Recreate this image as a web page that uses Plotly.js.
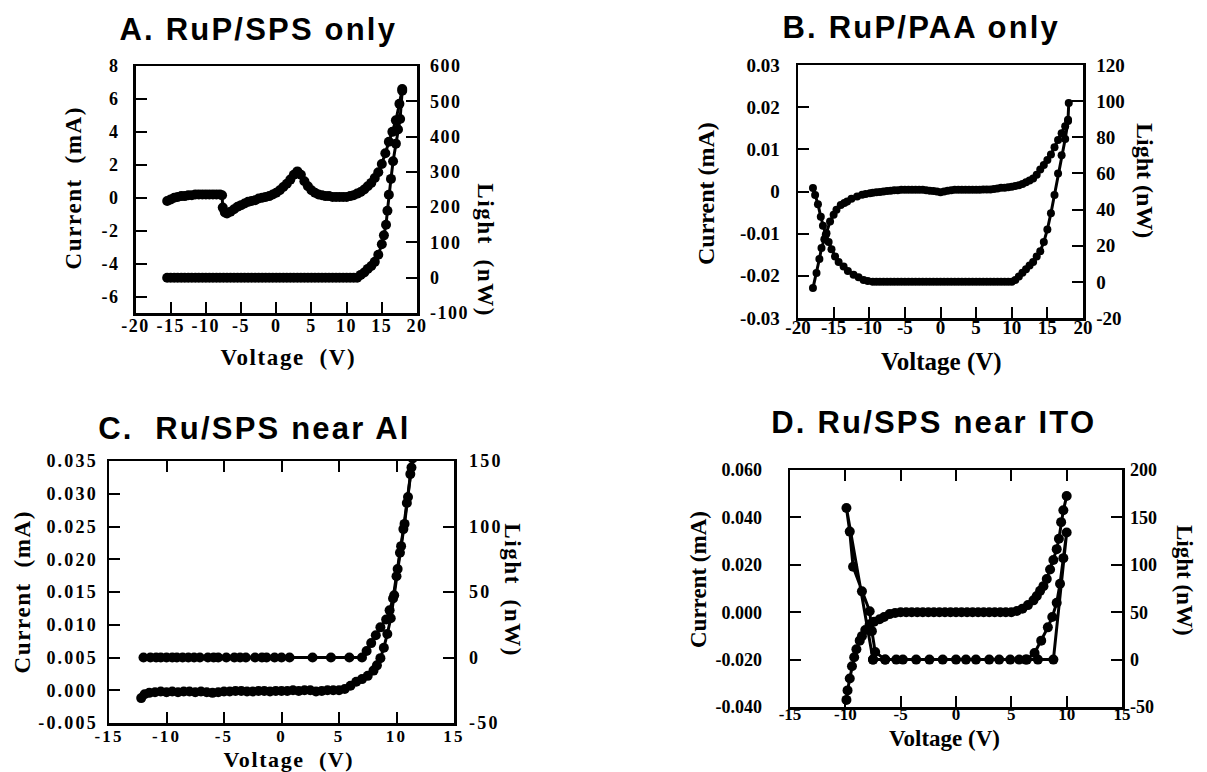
<!DOCTYPE html>
<html>
<head>
<meta charset="utf-8">
<script src="https://cdn.plot.ly/plotly-3.0.1.min.js"></script>
<style>
html,body{margin:0;padding:0;background:#fff;}
#chart{width:1207px;height:772px;}
.xtick text,.ytick text,.y2tick text{letter-spacing:1.5px;}
.x3tick text,.y5tick text,.y6tick text{letter-spacing:2.2px;}
g.annotation[data-index="0"] text,g.annotation[data-index="1"] text,g.annotation[data-index="2"] text,g.annotation[data-index="3"] text{letter-spacing:2.2px;}
g.annotation[data-index="4"] text,g.annotation[data-index="6"] text,g.annotation[data-index="8"] text,g.annotation[data-index="10"] text,g.annotation[data-index="12"] text,g.annotation[data-index="14"] text{letter-spacing:1.6px;}
</style>
</head>
<body>
<div id="chart"></div>
<script>
// ---------- Panel A: RuP/SPS only ----------
const A_volt_cur = [-15.5,-15.0,-14.5,-14.0,-13.5,-13.0,-12.5,-12.0,-11.5,-11.0,-10.5,-10.0,-9.5,-9.0,-8.5,-8.0,
  -7.7,-7.6,-7.3,-7.0,
  -6.5,-6.0,-5.5,-5.0,-4.5,-4.0,-3.5,-3.0,-2.5,-2.0,-1.5,-1.0,-0.5,0.0,0.5,1.0,1.5,2.0,2.5,3.0,3.5,4.0,4.5,5.0,5.5,
  6.0,6.5,7.0,7.5,8.0,8.5,9.0,9.5,10.0,10.5,11.0,11.5,12.0,12.5,13.0,13.5,14.0,14.5,15.0,15.5,16.0,16.5,17.0,17.5,
  17.9];
const A_current = [-0.2,-0.1,0.0,0.05,0.1,0.1,0.15,0.15,0.2,0.2,0.2,0.2,0.2,0.2,0.2,0.2,
  0.15,-0.6,-0.9,-0.95,
  -0.85,-0.7,-0.55,-0.45,-0.35,-0.25,-0.2,-0.15,-0.05,0.0,0.05,0.1,0.2,0.3,0.45,0.65,0.85,1.1,1.4,1.6,1.4,1.0,0.7,0.45,0.3,
  0.2,0.15,0.1,0.1,0.05,0.05,0.05,0.05,0.05,0.1,0.15,0.25,0.35,0.5,0.7,0.9,1.2,1.55,2.05,2.7,3.4,4.0,4.7,5.7,
  6.6];
const A_volt_light = [-15.5,-15,-14.5,-14,-13.5,-13,-12.5,-12,-11.5,-11,-10.5,-10,-9.5,-9,-8.5,-8,-7.5,-7,-6.5,-6,
  -5.5,-5,-4.5,-4,-3.5,-3,-2.5,-2,-1.5,-1,-0.5,0,0.5,1,1.5,2,2.5,3,3.5,4,4.5,5,5.5,6,6.5,7,7.5,8,8.5,9,9.5,10,10.5,11,11.5,
  12.0,12.5,13.0,13.5,14.0,14.5,15.0,15.3,15.6,15.8,16.0,16.3,16.6,17.0,17.3,17.6,17.9];
const A_light = [0,0,0,0,0,0,0,0,0,0,0, 0,0,0,0,0,0,0,0,0,0,0, 0,0,0,0,0,0,0,0,0,0,0, 0,0,0,0,0,0,0,0,0,0,0, 0,0,0,0,0,0,0,0,0,0,0,
  8,15,25,33,45,65,95,120,150,190,235,280,330,380,420,450,530];
const A_xticks = [-20,-15,-10,-5,0,5,10,15,20];
const A_xlabels = ['-20','-15','-10','-5','0','5','10','15','20'];
const A_yticks = [-6,-4,-2,0,2,4,6,8];
const A_ylabels = ['-6','-4','-2','0','2','4','6','8'];
const A_y2ticks = [-100,0,100,200,300,400,500,600];
const A_y2labels = ['-100','0','100','200','300','400','500','600'];

// ---------- Panel B: RuP/PAA only ----------
const B_volt_cur = [-17.9,-17.4,-17.0,-16.7,-16.3,-16.0,-15.5,-15.0,-14.6,-14.0,-13.5,-13.1,-12.5,-11.7,-11.0,-10.5,-9.9,-9.5,
  -9.0,-8.5,-8.0,-7.5,-7.0,-6.5,-6.0,-5.5,-5.0,-4.5,-4.0,-3.5,-3.0,-2.5,-2.0,-1.5,-1.0,-0.5,0.0,0.5,1.0,1.5,2.0,2.5,3.0,3.5,
  4.0,4.5,5.0,5.5,6.0,6.5,7.0,7.5,8.0,8.5,9.0,9.5,10.0,
  10.5,11.0,11.5,12.0,12.5,13.0,13.5,14.0,14.5,15.0,15.5,16.0,16.5,17.0,17.5,17.9,18.0];
const B_current = [-0.0229,-0.0193,-0.016,-0.0134,-0.0113,-0.0099,-0.0071,-0.0055,-0.0043,-0.0032,-0.0027,-0.0024,-0.0017,-0.0012,-0.0008,-0.0006,-0.0004,-0.0003,
  -0.0002,-0.0001,0.0,0.0001,0.0002,0.0003,0.0003,0.0004,0.0004,0.0004,0.0004,0.0004,0.0004,0.0004,0.0003,0.0002,0.0001,0.0,-0.0002,0.0,0.0002,0.0003,
  0.0004,0.0004,0.0004,0.0004,0.0004,0.0004,0.0004,0.0004,0.0005,0.0005,0.0005,0.0006,0.0007,0.0009,0.0009,0.001,0.0011,
  0.0013,0.0015,0.0018,0.0022,0.0026,0.0031,0.004,0.0052,0.0063,0.0075,0.0088,0.0105,0.0122,0.0138,0.0155,0.017,0.021];
const B_volt_light = [-17.9,-17.6,-17.2,-16.8,-16.5,-16.1,-15.7,-15.3,-14.8,-14.3,-13.6,-13.0,-12.2,-11.5,-10.8,-10.2,-9.5,
  -9.0,-8.5,-8.0,-7.5,-7.0,-6.5,-6.0,-5.5,-5.0,-4.5,-4.0,-3.5,-3.0,-2.5,-2.0,-1.5,-1.0,-0.5,0.0,0.5,1.0,1.5,2.0,2.5,3.0,3.5,
  4.0,4.5,5.0,5.5,6.0,6.5,7.0,7.5,8.0,8.5,9.0,9.5,10.0,
  10.5,11.0,11.5,12.0,12.5,13.0,13.5,14.0,14.5,15.0,15.5,16.0,16.5,17.0,17.5,17.9];
const B_light = [52,48,43,36,31,26,22,18,14,11,8.5,6,4,2.5,1,0.5,0,
  0,0,0,0,0,0,0,0,0,0,0,0,0,0,0,0,0,0,0,0,0,0,0,0,0,0,
  0,0,0,0,0,0,0,0,0,0,0,0,0,
  1,3,5,7,9,11,14,17,22,29,38,48,60,70,79,89];
const B_xticks = [-20,-15,-10,-5,0,5,10,15,20];
const B_xlabels = ['-20','-15','-10','-5','0','5','10','15','20'];
const B_yticks = [-0.03,-0.02,-0.01,0,0.01,0.02,0.03];
const B_ylabels = ['-0.03','-0.02','-0.01','0','0.01','0.02','0.03'];
const B_y2ticks = [-20,0,20,40,60,80,100,120];
const B_y2labels = ['-20','0','20','40','60','80','100','120'];

// ---------- Panel C: Ru/SPS near Al ----------
const C_volt_cur = [-12.2,-11.9,
  -11.5,-11.0,-10.5,-10.0,-9.5,-9.0,-8.5,-8.0,-7.5,-7.0,-6.5,-6.0,-5.5,-5.0,-4.5,-4.0,-3.5,-3.0,-2.5,-2.0,-1.5,-1.0,-0.5,
  0.0,0.5,1.0,1.5,2.0,2.5,3.0,3.5,4.0,4.5,5.0,5.5,6.0,6.5,7.0,7.5,
  8.0,8.3,8.6,8.9,9.2,9.5,9.8,10.1,10.4,10.7,11.0,11.3];
const C_current = [-0.0012,-0.0006,
  -0.0004,-0.0003,-0.0002,-0.0003,-0.0002,-0.0003,-0.0002,-0.0002,-0.0003,-0.0002,-0.0003,-0.0004,-0.0003,-0.0002,-0.0002,-0.0001,-0.0001,-0.0002,-0.0002,-0.0001,-0.0001,-0.0002,-0.0001,
  -0.0001,-0.0001,0.0,-0.0001,0.0,0.0,-0.0002,-0.0001,0.0,0.0,0.0,0.0002,0.0007,0.0013,0.0017,0.0022,
  0.003,0.0038,0.0049,0.0065,0.0086,0.011,0.0145,0.0185,0.022,0.0254,0.0295,0.034];
const C_volt_light = [-12.0,-11.4,-10.9,-10.5,-10.0,-9.5,-9.1,-8.6,-8.1,-7.6,-7.1,-6.4,-5.9,-5.5,-4.8,-4.1,-3.6,-3.1,-2.3,-1.7,
  -1.3,-0.6,0.0,0.7,2.7,4.3,5.9,7.0,
  7.4,7.8,8.2,8.6,9.1,9.4,9.7,10.0,10.3,10.6,10.9,11.2,11.4];
const C_light = [0,0,0,0,0,0,0,0,0,0,0,0,0,0,0,0,0,0,0,0,
  0,0,0,0,0,0,0,0,
  5,11,17,23,29,36,45,62,80,98,118,140,152];
const C_xticks = [-15,-10,-5,0,5,10,15];
const C_xlabels = ['-15','-10','-5','0','5','10','15'];
const C_yticks = [-0.005,0,0.005,0.01,0.015,0.02,0.025,0.03,0.035];
const C_ylabels = ['-0.005','0.000','0.005','0.010','0.015','0.020','0.025','0.030','0.035'];
const C_y2ticks = [-50,0,50,100,150];
const C_y2labels = ['-50','0','50','100','150'];

// ---------- Panel D: Ru/SPS near ITO ----------
const D_volt_cur = [-9.9,-9.8,-9.6,-9.4,-9.2,-9.0,-8.7,-8.5,-8.2,-7.8,-7.4,-6.9,-6.5,-6.0,-5.5,
  -5.0,-4.5,-4.0,-3.5,-3.0,-2.5,-2.0,-1.5,-1.0,-0.5,0.0,0.5,1.0,1.5,2.0,2.5,3.0,3.5,4.0,4.5,5.0,
  5.5,6.0,6.5,7.0,7.3,7.6,7.9,8.2,8.5,8.8,9.1,9.3,9.5,9.7,10.0];
const D_current = [-0.037,-0.033,-0.028,-0.0228,-0.019,-0.0156,-0.012,-0.0101,-0.0075,-0.0051,-0.004,-0.003,-0.002,-0.0008,-0.0003,
  0,0,0,0,0,0,0,0,0,0,0,0,0,0,0,0,0,0,0,0,0,
  0.0005,0.0015,0.003,0.005,0.0068,0.009,0.011,0.014,0.018,0.022,0.0266,0.031,0.038,0.043,0.049];
const D_volt_light = [-7.5,-6.4,-5.4,-4.8,-3.6,-2.4,-1.2,0.0,0.9,1.8,3.0,3.9,4.9,5.7,6.3,7.4,8.8,
  10.0,9.7,9.4,9.1,8.7,8.3,7.7,7.1,6.4,
  -6.4,-7.3,-7.6,-7.8,-8.5,-9.3,-9.6,-9.9,-7.5];
const D_light = [0,0,0,0,0,0,0,0,0,0,0,0,0,0,0,0,0,
  134,107,80,60,45,34,20,7,0,
  0,8,30,51,72,98,135,160,0];
const D_xticks = [-15,-10,-5,0,5,10,15];
const D_xlabels = ['-15','-10','-5','0','5','10','15'];
const D_yticks = [-0.04,-0.02,0,0.02,0.04,0.06];
const D_ylabels = ['-0.040','-0.020','0.000','0.020','0.040','0.060'];
const D_y2ticks = [-50,0,50,100,150,200];
const D_y2labels = ['-50','0','50','100','150','200'];

// ---------- layout helpers ----------
const W = 1207, H = 772;
const px = v => v / W;
const py = v => 1 - v / H;
const serif = 'Liberation Serif, Times New Roman, serif';
const sans = 'Liberation Sans, Arial, Helvetica, sans-serif';

function tr(x, y, xa, ya, size) {
  return {x: x, y: y, xaxis: xa, yaxis: ya, type: 'scatter', mode: 'lines+markers',
    line: {color: '#000', width: 3}, marker: {color: '#000', size: size}, hoverinfo: 'skip'};
}
function axis(extra, fs) {
  return Object.assign({
    showline: true, linecolor: '#000', linewidth: 2.5, ticks: 'inside', ticklen: 11, tickwidth: 2,
    tickcolor: '#000', showgrid: false, zeroline: false, fixedrange: true, tickmode: 'array',
    tickfont: {family: serif, size: fs, color: '#000', weight: 'bold'}
  }, extra);
}

const data = [
  tr(A_volt_cur, A_current, 'x', 'y', 10),
  tr(A_volt_light, A_light, 'x', 'y2', 10),
  tr(B_volt_cur, B_current, 'x2', 'y3', 8),
  tr(B_volt_light, B_light, 'x2', 'y4', 8),
  tr(C_volt_cur, C_current, 'x3', 'y5', 10),
  tr(C_volt_light, C_light, 'x3', 'y6', 10),
  tr(D_volt_cur, D_current, 'x4', 'y7', 10),
  tr(D_volt_light, D_light, 'x4', 'y8', 10)
];

const domA = {x: [px(135.5), px(417)], y: [py(313), py(66)]};
const domB = {x: [px(798), px(1083)], y: [py(318), py(65)]};
const domC = {x: [px(109), px(454)], y: [py(723), py(461)]};
const domD = {x: [px(790), px(1122)], y: [py(707), py(470)]};

function ann(text, x, y, size, family, angle) {
  return {text: text, x: px(x), y: py(y), xref: 'paper', yref: 'paper', showarrow: false,
    xanchor: 'center', yanchor: 'middle', textangle: angle || 0,
    font: {family: family, size: size, color: '#000', weight: 'bold'}};
}

const annotations = [
  ann('A. RuP/SPS only', 258, 29, 31, sans),
  ann('B. RuP/PAA only', 921, 27, 31, sans),
  ann('C.\u00a0 Ru/SPS near Al', 254, 428, 31, sans),
  ann('D. Ru/SPS near ITO', 933, 423, 31, sans),
  ann('Current\u00a0 (mA)', 74, 188, 23, serif, -90),
  ann('Current (mA)', 706, 194, 24, serif, -90),
  ann('Current\u00a0 (mA)', 22, 592, 23, serif, -90),
  ann('Current (mA)', 698, 580, 23, serif, -90),
  ann('Voltage\u00a0 (V)', 288, 357, 23, serif),
  ann('Voltage (V)', 941, 362, 25, serif),
  ann('Voltage\u00a0 (V)', 289, 759, 22, serif),
  ann('Voltage (V)', 944, 738, 23, serif),
  ann('Light\u00a0 (nW)', 486, 250, 23, serif, 90),
  ann('Light (nW)', 1145, 180, 24, serif, 90),
  ann('Light\u00a0 (nW)', 513, 590, 23, serif, 90),
  ann('Light (nW)', 1185, 580, 23, serif, 90)
];

const layout = {
  width: W, height: H, margin: {l: 0, r: 0, t: 0, b: 0},
  paper_bgcolor: '#fff', plot_bgcolor: '#fff', showlegend: false,
  xaxis: axis({domain: domA.x, anchor: 'y', range: [-20, 20], tickvals: A_xticks, ticktext: A_xlabels, mirror: true, ticklabelstandoff: -5}, 18),
  yaxis: axis({domain: domA.y, anchor: 'x', range: [-7, 8], tickvals: A_yticks, ticktext: A_ylabels, mirror: true, ticklabelstandoff: 10}, 18),
  yaxis2: axis({domain: domA.y, anchor: 'x', overlaying: 'y', side: 'right', range: [-100, 600], tickvals: A_y2ticks, ticktext: A_y2labels, ticklabelstandoff: 7}, 18),

  xaxis2: axis({domain: domB.x, anchor: 'y3', range: [-20, 20], tickvals: B_xticks, ticktext: B_xlabels, mirror: true, ticklabelstandoff: -9}, 19),
  yaxis3: axis({domain: domB.y, anchor: 'x2', range: [-0.03, 0.03], tickvals: B_yticks, ticktext: B_ylabels, mirror: true, ticklabelstandoff: 12}, 19),
  yaxis4: axis({domain: domB.y, anchor: 'x2', overlaying: 'y3', side: 'right', range: [-20, 120], tickvals: B_y2ticks, ticktext: B_y2labels, ticklabelstandoff: 7}, 19),

  xaxis3: axis({domain: domC.x, anchor: 'y5', range: [-15, 15], tickvals: C_xticks, ticktext: C_xlabels, mirror: 'ticks', ticklabelstandoff: -4}, 17),
  yaxis5: axis({domain: domC.y, anchor: 'x3', range: [-0.005, 0.035], tickvals: C_yticks, ticktext: C_ylabels, mirror: true, ticklabelstandoff: 5}, 18),
  yaxis6: axis({domain: domC.y, anchor: 'x3', overlaying: 'y5', side: 'right', range: [-50, 150], tickvals: C_y2ticks, ticktext: C_y2labels, ticklabelstandoff: 9}, 18),

  xaxis4: axis({domain: domD.x, anchor: 'y7', range: [-15, 15], tickvals: D_xticks, ticktext: D_xlabels, mirror: 'ticks', ticklabelstandoff: -10}, 17),
  yaxis7: axis({domain: domD.y, anchor: 'x4', range: [-0.04, 0.06], tickvals: D_yticks, ticktext: D_ylabels, mirror: true, ticklabelstandoff: 22}, 18),
  yaxis8: axis({domain: domD.y, anchor: 'x4', overlaying: 'y7', side: 'right', range: [-50, 200], tickvals: D_y2ticks, ticktext: D_y2labels, ticklabelstandoff: 2}, 18),

  annotations: annotations
};

Plotly.newPlot('chart', data, layout, {staticPlot: true, displayModeBar: false});
</script>
</body>
</html>
